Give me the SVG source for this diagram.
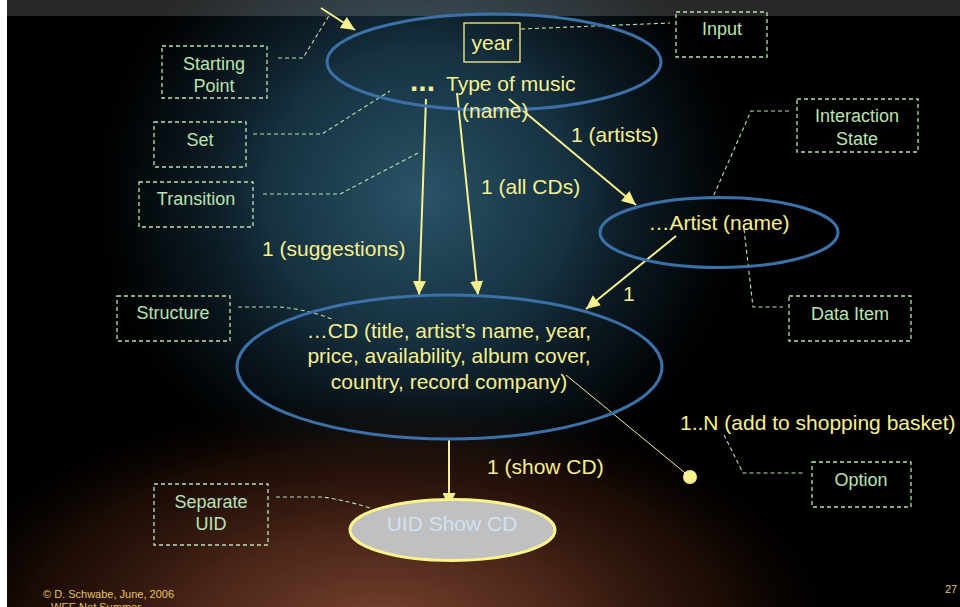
<svg xmlns="http://www.w3.org/2000/svg" width="960" height="607" viewBox="0 0 960 607">
  <defs>
    <radialGradient id="glowTeal" gradientUnits="userSpaceOnUse" cx="420" cy="195" r="340" gradientTransform="translate(420 195) scale(1 0.95) translate(-420 -195)">
      <stop offset="0" stop-color="#2a5468" stop-opacity="1"/>
      <stop offset="0.45" stop-color="#1a3a4c" stop-opacity="0.85"/>
      <stop offset="0.8" stop-color="#0a1820" stop-opacity="0.5"/>
      <stop offset="1" stop-color="#000000" stop-opacity="0"/>
    </radialGradient>
    <radialGradient id="glowBrown" gradientUnits="userSpaceOnUse" cx="380" cy="630" r="340" gradientTransform="translate(380 630) scale(1.4 0.72) translate(-380 -630)">
      <stop offset="0" stop-color="#7a4432" stop-opacity="1"/>
      <stop offset="0.4" stop-color="#52291a" stop-opacity="0.9"/>
      <stop offset="0.75" stop-color="#2a1208" stop-opacity="0.6"/>
      <stop offset="1" stop-color="#000000" stop-opacity="0"/>
    </radialGradient>
    <marker id="arrow" markerUnits="userSpaceOnUse" markerWidth="15" markerHeight="13" refX="14" refY="6.5" orient="auto">
      <path d="M0,0 L14,6.5 L0,13 z" fill="#f7f08e"/>
    </marker>
  </defs>
  <style>
    .lbl { font-family: "Liberation Sans", Arial, sans-serif; font-size: 21px; fill: #f7f08e; }
    .dots { font-family: "Liberation Sans", Arial, sans-serif; font-size: 30px; font-weight: bold; fill: #f7f08e; }
    .note { font-family: "Liberation Sans", Arial, sans-serif; font-size: 18px; fill: #b8e4b0; text-anchor: middle; }
    .nbox { fill: none; stroke: #b8e4b0; stroke-width: 1.3; stroke-dasharray: 4 3; }
    .lead { fill: none; stroke: #b8e4b0; stroke-width: 1.1; stroke-dasharray: 4 3; }
    .ctx { fill: none; stroke: #3b70a8; stroke-width: 3; }
    .link { stroke: #f7f08e; stroke-width: 2; fill: none; marker-end: url(#arrow); }
    .foot { font-family: "Liberation Sans", Arial, sans-serif; font-size: 11px; fill: #e6c45a; }
  </style>

  <!-- backdrop -->
  <rect x="0" y="0" width="960" height="607" fill="#000000"/>
  <rect x="0" y="0" width="960" height="607" fill="url(#glowTeal)"/>
  <rect x="0" y="0" width="960" height="607" fill="url(#glowBrown)"/>
  <rect x="0" y="0" width="960" height="16" fill="#ffffff" fill-opacity="0.16"/>
  <rect x="0" y="0" width="7" height="607" fill="#ffffff"/>

  <!-- connectors -->
  <g id="connectors">
    <line class="link" x1="321" y1="8" x2="355" y2="30"/>
    <line class="link" x1="426" y1="99" x2="419" y2="295"/>
    <line class="link" x1="457" y1="93" x2="478" y2="295"/>
    <line class="link" x1="509" y1="99" x2="636" y2="205"/>
    <line class="link" x1="676" y1="236" x2="586" y2="309"/>
    <line class="link" x1="449" y1="440" x2="449" y2="507"/>
    <line x1="566" y1="375" x2="690" y2="477" stroke="#f7f08e" stroke-width="1"/>
    <circle cx="690" cy="477" r="7" fill="#f7f08e"/>
    <text class="lbl" x="571" y="142">1 (artists)</text>
    <text class="lbl" x="481" y="194">1 (all CDs)</text>
    <text class="lbl" x="262" y="256">1 (suggestions)</text>
    <text class="lbl" x="623" y="301">1</text>
    <text class="lbl" x="680" y="430">1..N (add to shopping basket)</text>
    <text class="lbl" x="487" y="474">1 (show CD)</text>
  </g>

  <!-- annotation leaders -->
  <g id="leaders">
    <polyline class="lead" points="278,58 303,58 330,14"/>
    <polyline class="lead" points="253,134 322,134 390,91"/>
    <polyline class="lead" points="263,194 340,194 418,153"/>
    <polyline class="lead" points="521,29 670,23"/>
    <polyline class="lead" points="789,111 751,111 713,197"/>
    <polyline class="lead" points="744,229 753,307 783,307"/>
    <path class="lead" d="M238,307 L280,307 Q305,309 332,319"/>
    <polyline class="lead" points="724,435 743,473 805,473"/>
    <path class="lead" d="M276,497 L322,497 Q345,500 370,508"/>
  </g>

  <!-- music type context -->
  <g id="music-type">
    <ellipse class="ctx" cx="494" cy="62" rx="167" ry="48"/>
    <rect x="464" y="23" width="56" height="39" fill="none" stroke="#f7f08e" stroke-width="1.3"/>
    <text class="lbl" x="492" y="50" text-anchor="middle">year</text>
    <text class="dots" x="410" y="91">...</text>
    <text class="lbl" x="446" y="91">Type of music</text>
    <text class="lbl" x="462" y="118">(name)</text>
  </g>

  <!-- artist context -->
  <g id="artist">
    <ellipse class="ctx" cx="719" cy="232.5" rx="119" ry="35"/>
    <text class="lbl" x="719" y="230" text-anchor="middle">…Artist (name)</text>
  </g>

  <!-- CD context -->
  <g id="cd">
    <ellipse class="ctx" cx="449.5" cy="367" rx="212.5" ry="72"/>
    <text class="lbl" x="449" y="338" text-anchor="middle">…CD (title, artist’s name, year,</text>
    <text class="lbl" x="449" y="363" text-anchor="middle">price, availability, album cover,</text>
    <text class="lbl" x="449" y="389" text-anchor="middle">country, record company)</text>
  </g>

  <!-- separate UID -->
  <g id="uid-show-cd">
    <ellipse cx="452.5" cy="530" rx="102.5" ry="30.5" fill="#c0c0c0" stroke="#fbf48a" stroke-width="3"/>
    <text class="lbl" x="452" y="531" text-anchor="middle" style="fill:#cfe2f4">UID Show CD</text>
  </g>

  <!-- annotation boxes -->
  <g id="note-starting-point">
    <rect class="nbox" x="162" y="46" width="105" height="52"/>
    <text class="note" x="214" y="70">Starting</text>
    <text class="note" x="214" y="92">Point</text>
  </g>
  <g id="note-set">
    <rect class="nbox" x="154" y="122" width="92" height="45"/>
    <text class="note" x="200" y="146">Set</text>
  </g>
  <g id="note-transition">
    <rect class="nbox" x="139" y="182" width="114" height="45"/>
    <text class="note" x="196" y="205">Transition</text>
  </g>
  <g id="note-input">
    <rect class="nbox" x="676" y="12" width="91" height="45"/>
    <text class="note" x="722" y="35">Input</text>
  </g>
  <g id="note-interaction-state">
    <rect class="nbox" x="797" y="99" width="121" height="53"/>
    <text class="note" x="857" y="122">Interaction</text>
    <text class="note" x="857" y="145">State</text>
  </g>
  <g id="note-structure">
    <rect class="nbox" x="117" y="296" width="113" height="45"/>
    <text class="note" x="173" y="319">Structure</text>
  </g>
  <g id="note-data-item">
    <rect class="nbox" x="789" y="296" width="122" height="45"/>
    <text class="note" x="850" y="320">Data Item</text>
  </g>
  <g id="note-option">
    <rect class="nbox" x="812" y="462" width="99" height="45"/>
    <text class="note" x="861" y="486">Option</text>
  </g>
  <g id="note-separate-uid">
    <rect class="nbox" x="154" y="484" width="114" height="61"/>
    <text class="note" x="211" y="508">Separate</text>
    <text class="note" x="211" y="530">UID</text>
  </g>

  <!-- footer -->
  <text class="foot" x="43" y="598">© D. Schwabe, June, 2006</text>
  <text class="foot" x="51" y="611">WEE Net Summer</text>
  <text class="foot" x="945" y="593">27</text>
</svg>
